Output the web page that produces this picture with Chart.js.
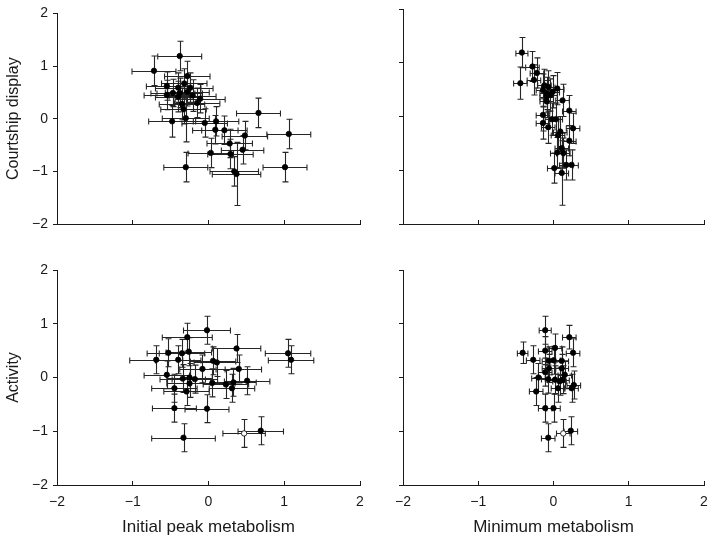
<!DOCTYPE html>
<html>
<head>
<meta charset="utf-8">
<script src="https://cdn.jsdelivr.net/npm/chart.js@4/dist/chart.umd.min.js"></script>
<style>
  html, body { margin: 0; padding: 0; background: #fff; overflow: hidden; }
  #wrap { position: relative; width: 709px; height: 545px; overflow: hidden; background: #fff; }
  canvas { position: absolute; }
</style>
</head>
<body>
<div id="wrap">
  <canvas id="tl" width="380" height="250" style="left:0;top:0;width:380px;height:250px"></canvas>
  <canvas id="tr" width="350" height="250" style="left:380px;top:0;width:350px;height:250px"></canvas>
  <canvas id="bl" width="380" height="295" style="left:0;top:250px;width:380px;height:295px"></canvas>
  <canvas id="br" width="350" height="295" style="left:380px;top:250px;width:350px;height:295px"></canvas>
</div>
<script>
// ---- tick labels and axis titles ----
const tickValues = [-2, -1, 0, 1, 2];
const yTitles = ['Courtship display', 'Activity'];
const xTitles = ['Initial peak metabolism', 'Minimum metabolism'];

// ---- Courtship display vs Initial peak metabolism ----
const cdPeakX    = [-0.38,-0.72,-0.55,-0.32,-0.28,-0.38,-0.47,-0.28,-0.11,-0.40,-0.35,-0.21,-0.48,-0.30,0.66,1.06,1.01,-0.30,-0.05,0.09,0.21,0.48,0.28,0.45,0.03,0.29,0.34,0.37,-0.40,-0.24,-0.33,-0.55,-0.15,0.10];
const cdPeakY    = [1.19,0.91,0.62,0.67,0.81,0.49,0.49,0.51,0.38,0.42,0.28,0.44,-0.05,0.01,0.11,-0.29,-0.92,-0.92,-0.08,-0.21,-0.22,-0.32,-0.47,-0.59,-0.65,-0.67,-1.00,-1.05,0.59,0.59,0.18,0.45,0.30,-0.05];
const cdPeakXErr = [0.29,0.29,0.27,0.30,0.30,0.30,0.29,0.29,0.33,0.30,0.30,0.31,0.31,0.31,0.29,0.29,0.29,0.29,0.30,0.30,0.30,0.30,0.30,0.28,0.30,0.30,0.32,0.32,0.30,0.30,0.30,0.30,0.30,0.30];
const cdPeakYErr = [0.28,0.28,0.27,0.28,0.28,0.28,0.26,0.27,0.27,0.29,0.30,0.30,0.30,0.45,0.28,0.28,0.28,0.28,0.27,0.27,0.27,0.27,0.27,0.27,0.28,0.28,0.28,0.60,0.28,0.28,0.28,0.28,0.28,0.28];

// ---- Courtship display vs Minimum metabolism ----
const cdMinX    = [-0.42,-0.44,-0.28,-0.22,-0.26,-0.14,-0.09,-0.07,-0.01,0.05,-0.09,-0.14,-0.14,-0.02,0.03,-0.07,0.21,0.26,0.09,0.21,0.11,0.05,0.13,0.17,0.24,0.01,0.11,-0.09,-0.04,-0.12,0.12,0.06];
const cdMinY    = [1.19,0.62,0.93,0.81,0.68,0.49,0.43,0.55,0.46,0.52,0.28,0.03,-0.12,-0.05,-0.05,-0.20,0.11,-0.22,-0.28,-0.45,-0.59,-0.67,-0.68,-0.90,-0.90,-0.96,-1.05,0.37,0.40,0.58,0.30,-0.35];
const cdMinXErr = [0.08,0.09,0.09,0.09,0.09,0.09,0.09,0.09,0.09,0.09,0.09,0.09,0.09,0.09,0.09,0.09,0.09,0.09,0.09,0.09,0.09,0.09,0.09,0.09,0.09,0.09,0.09,0.09,0.09,0.09,0.09,0.09];
const cdMinYErr = [0.28,0.30,0.28,0.28,0.28,0.30,0.30,0.30,0.30,0.30,0.30,0.30,0.30,0.30,0.30,0.30,0.28,0.28,0.28,0.28,0.28,0.28,0.28,0.28,0.28,0.28,0.60,0.30,0.30,0.30,0.30,0.30];

// ---- Activity vs Initial peak metabolism ----
const actPeakX    = [-0.02,-0.28,-0.26,-0.53,-0.35,-0.69,-0.40,0.37,1.05,1.09,0.06,0.11,-0.08,0.40,-0.34,-0.25,-0.18,-0.25,-0.45,-0.29,0.23,0.33,0.31,0.51,-0.45,-0.02,-0.33,0.47,0.69,-0.55,0.05];
const actPeakY    = [0.88,0.75,0.48,0.46,0.45,0.33,0.33,0.54,0.45,0.33,0.31,0.28,0.16,0.16,-0.02,0.00,-0.03,-0.11,-0.20,-0.26,-0.13,-0.09,-0.20,-0.06,-0.57,-0.58,-1.12,-1.04,-0.99,0.05,-0.10];
const actPeakXErr = [0.31,0.33,0.30,0.28,0.30,0.35,0.30,0.32,0.30,0.30,0.30,0.30,0.30,0.30,0.30,0.30,0.30,0.30,0.30,0.30,0.30,0.30,0.30,0.30,0.29,0.29,0.42,0.28,0.30,0.30,0.30];
const actPeakYErr = [0.26,0.26,0.26,0.26,0.26,0.26,0.26,0.26,0.26,0.26,0.26,0.26,0.26,0.26,0.26,0.26,0.26,0.26,0.26,0.26,0.26,0.26,0.26,0.26,0.26,0.26,0.26,0.26,0.26,0.26,0.26];
const actPeakOpen = [27];

// ---- Activity vs Minimum metabolism ----
const actMinX    = [-0.11,0.21,-0.41,-0.27,-0.11,0.02,0.26,-0.06,0.11,-0.06,0.11,-0.20,-0.07,0.02,0.08,0.12,0.06,0.27,0.24,-0.23,-0.11,0.00,-0.07,0.13,0.23,-0.11,0.00,0.15];
const actMinY    = [0.88,0.75,0.46,0.33,0.50,0.55,0.46,0.31,0.31,0.17,0.17,0.00,-0.03,-0.04,-0.07,-0.04,-0.20,-0.14,-0.20,-0.26,-0.57,-0.57,-1.12,-1.04,-0.99,0.10,0.32,0.05];
const actMinXErr = [0.08,0.09,0.07,0.09,0.09,0.09,0.09,0.09,0.09,0.09,0.09,0.09,0.09,0.09,0.09,0.09,0.09,0.09,0.09,0.09,0.09,0.09,0.09,0.09,0.09,0.09,0.09,0.09];
const actMinYErr = [0.26,0.22,0.20,0.26,0.26,0.26,0.26,0.26,0.26,0.26,0.26,0.26,0.26,0.26,0.26,0.26,0.26,0.26,0.26,0.26,0.26,0.26,0.26,0.26,0.26,0.26,0.26,0.26];
const actMinOpen = [23];

const FONT = "'Liberation Sans', Arial, Helvetica, sans-serif";
const INK = '#1a1a1a';

const errorBars = {
  id: 'errorBars',
  beforeDatasetsDraw(chart) {
    const {ctx} = chart;
    const xs = chart.scales.x, ys = chart.scales.y;
    const ds = chart.data.datasets[0];
    const cap = 3;
    ctx.save();
    ctx.strokeStyle = '#262626';
    ctx.lineWidth = 1.1;
    ds.data.forEach((p, i) => {
      const px = Math.round(xs.getPixelForValue(p.x)) + 0.5;
      const py = Math.round(ys.getPixelForValue(p.y)) + 0.5;
      const x0 = xs.getPixelForValue(p.x - ds.xErr[i]);
      const x1 = xs.getPixelForValue(p.x + ds.xErr[i]);
      const y0 = ys.getPixelForValue(p.y - ds.yErr[i]);
      const y1 = ys.getPixelForValue(p.y + ds.yErr[i]);
      ctx.beginPath();
      ctx.moveTo(x0, py); ctx.lineTo(x1, py);
      ctx.moveTo(x0, py - cap); ctx.lineTo(x0, py + cap);
      ctx.moveTo(x1, py - cap); ctx.lineTo(x1, py + cap);
      ctx.moveTo(px, y0); ctx.lineTo(px, y1);
      ctx.moveTo(px - cap, y0); ctx.lineTo(px + cap, y0);
      ctx.moveTo(px - cap, y1); ctx.lineTo(px + cap, y1);
      ctx.stroke();
    });
    ctx.restore();
  }
};

function fmt(v) { return v < 0 ? '\u2212' + Math.abs(v) : String(v); }

function makePanel(id, xv, yv, xe, ye, open, opts) {
  const data = xv.map((x, i) => ({x: x, y: yv[i]}));
  const fills = xv.map((_, i) => (open && open.includes(i)) ? '#ffffff' : '#000000');
  new Chart(document.getElementById(id), {
    type: 'scatter',
    data: {
      datasets: [{
        data: data,
        xErr: xe,
        yErr: ye,
        pointRadius: 2.7,
        pointHoverRadius: 2.7,
        pointBackgroundColor: fills,
        pointBorderColor: '#000',
        pointBorderWidth: 0.8
      }]
    },
    options: {
      responsive: false,
      animation: false,
      devicePixelRatio: 1,
      events: [],
      layout: { padding: opts.padding },
      plugins: { legend: { display: false }, tooltip: { enabled: false } },
      scales: {
        x: {
          type: 'linear', min: -2, max: 2,
          afterBuildTicks: s => { s.ticks = tickValues.map(v => ({value: v})); },
          afterFit: s => { s.height = opts.xHeight; },
          grid: { drawOnChartArea: false, drawTicks: true, tickLength: -4, color: INK, lineWidth: 1 },
          border: { display: true, color: INK, width: 1 },
          ticks: { display: opts.xLabels, padding: 13, maxRotation: 0, autoSkip: false,
                   color: INK, font: { family: FONT, size: 14 }, callback: v => fmt(v) },
          title: { display: !!opts.xTitle, text: opts.xTitle || '', color: INK,
                   font: { family: FONT, size: 17 }, padding: { top: 0, bottom: 7 } }
        },
        y: {
          type: 'linear', min: -2, max: 2,
          afterBuildTicks: s => { s.ticks = tickValues.map(v => ({value: v})); },
          afterFit: s => { s.width = opts.yWidth; },
          grid: { drawOnChartArea: false, drawTicks: true, tickLength: 4, color: INK, lineWidth: 1 },
          border: { display: true, color: INK, width: 1 },
          ticks: { display: opts.yLabels, padding: 5, color: INK,
                   font: { family: FONT, size: 14 }, callback: v => fmt(v) },
          title: { display: !!opts.yTitle, text: opts.yTitle || '', color: INK,
                   font: { family: FONT, size: 16 }, padding: { top: 4, bottom: 0 } }
        }
      }
    },
    plugins: [errorBars]
  });
}

makePanel('tl', cdPeakX, cdPeakY, cdPeakXErr, cdPeakYErr, null, {
  padding: {top: 9, right: 20, bottom: 0, left: 0}, xHeight: 26, yWidth: 57,
  xLabels: false, yLabels: true, yTitle: yTitles[0]
});
makePanel('tr', cdMinX, cdMinY, cdMinXErr, cdMinYErr, null, {
  padding: {top: 9, right: 26, bottom: 0, left: 0}, xHeight: 26, yWidth: 23,
  xLabels: false, yLabels: false
});
makePanel('bl', actPeakX, actPeakY, actPeakXErr, actPeakYErr, actPeakOpen, {
  padding: {top: 20, right: 20, bottom: 0, left: 0}, xHeight: 60, yWidth: 57,
  xLabels: true, yLabels: true, yTitle: yTitles[1], xTitle: xTitles[0]
});
makePanel('br', actMinX, actMinY, actMinXErr, actMinYErr, actMinOpen, {
  padding: {top: 20, right: 26, bottom: 0, left: 0}, xHeight: 60, yWidth: 23,
  xLabels: true, yLabels: false, xTitle: xTitles[1]
});
</script>
</body>
</html>
